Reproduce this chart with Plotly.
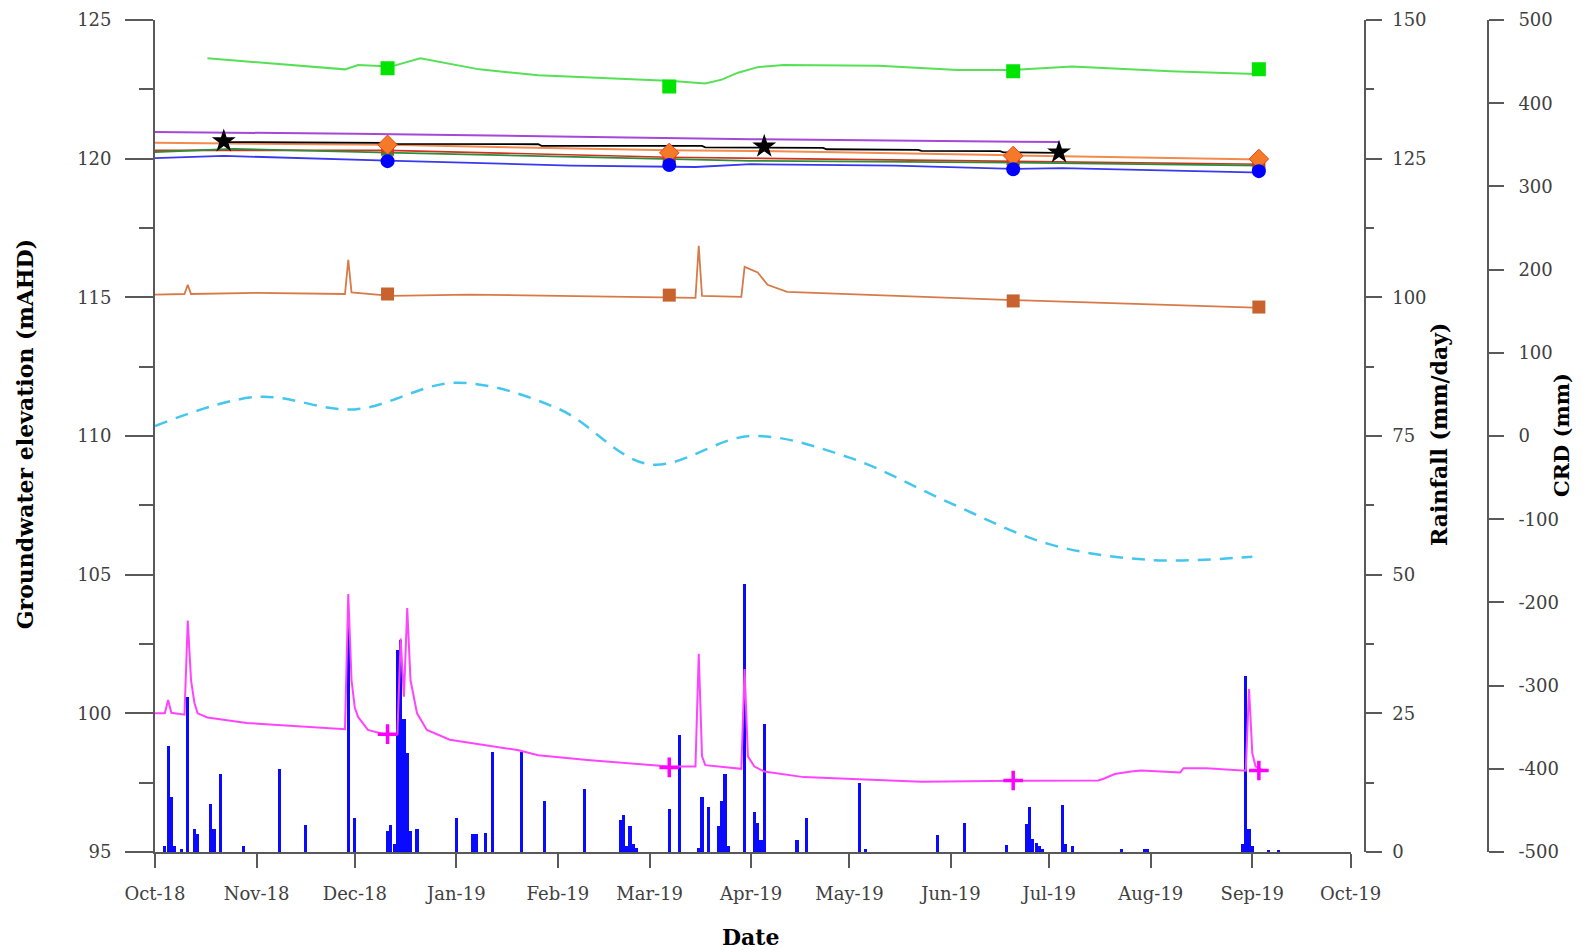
import plotly.graph_objects as go

# ---------------- data ----------------
survey_dates = ["2018-12-11", "2019-03-07", "2019-06-20", "2019-09-03"]

lime_dates = ["2018-10-17", "2018-11-28", "2018-12-02", "2018-12-12", "2018-12-21", "2019-01-08",
              "2019-01-26", "2019-02-24", "2019-03-08", "2019-03-18", "2019-03-23", "2019-03-28",
              "2019-04-03", "2019-04-11", "2019-05-10", "2019-06-03", "2019-06-20", "2019-07-08",
              "2019-08-07", "2019-09-02"]
lime_vals = [123.62, 123.22, 123.38, 123.32, 123.62, 123.22, 123.01, 122.88, 122.8, 122.71, 122.85,
             123.1, 123.3, 123.38, 123.35, 123.2, 123.2, 123.32, 123.15, 123.05]
lime_marks = [123.26, 122.60, 123.15, 123.22]

purple_dates = ["2018-10-01", "2018-12-01", "2019-02-01", "2019-04-01", "2019-07-04"]
purple_vals = [120.96, 120.9, 120.8, 120.7, 120.6]

black_dates = ["2018-10-22", "2018-12-10", "2018-12-11", "2019-01-26", "2019-01-27", "2019-03-17",
               "2019-03-18", "2019-04-23", "2019-04-24", "2019-05-22", "2019-05-23", "2019-06-16",
               "2019-06-17", "2019-07-04"]
black_vals = [120.6, 120.57, 120.53, 120.52, 120.46, 120.46, 120.41, 120.39, 120.34, 120.32, 120.28,
              120.27, 120.23, 120.21]
star_dates = ["2018-10-22", "2019-04-05", "2019-07-04"]
star_vals = [120.63, 120.44, 120.23]

orange_dates = ["2018-10-01", "2018-12-11", "2019-03-07", "2019-04-01", "2019-06-20", "2019-09-04"]
orange_vals = [120.57, 120.5, 120.3, 120.28, 120.12, 119.97]
orange_marks = [120.50, 120.21, 120.10, 119.99]

red_dates = ["2018-10-01", "2018-12-11", "2019-03-07", "2019-06-20", "2019-09-04"]
red_vals = [120.3, 120.3, 120.05, 119.9, 119.8]
red_marks = [120.35, 120.12, 119.98, 119.85]

dgreen_dates = ["2018-10-01", "2018-10-25", "2018-12-11", "2019-02-01", "2019-04-01", "2019-06-20",
                "2019-09-04"]
dgreen_vals = [120.24, 120.35, 120.22, 120.08, 119.92, 119.86, 119.75]
dgreen_marks = [120.22, 120.0, 119.88, 119.78]

blue_dates = ["2018-10-01", "2018-10-22", "2018-12-11", "2019-02-05", "2019-03-15", "2019-04-01",
              "2019-05-15", "2019-06-20", "2019-07-05", "2019-08-10", "2019-09-04"]
blue_vals = [120.02, 120.1, 119.93, 119.75, 119.7, 119.8, 119.75, 119.63, 119.66, 119.55, 119.5]
blue_marks = [119.91, 119.77, 119.62, 119.55]

brown_dates = ["2018-10-01", "2018-10-10", "2018-10-11", "2018-10-12", "2018-11-01", "2018-11-28",
               "2018-11-29", "2018-11-30", "2018-12-12", "2019-01-05", "2019-03-15", "2019-03-16",
               "2019-03-17", "2019-03-29", "2019-03-30", "2019-04-03", "2019-04-06", "2019-04-12",
               "2019-06-20", "2019-09-04"]
brown_vals = [115.1, 115.12, 115.45, 115.12, 115.16, 115.12, 116.35, 115.18, 115.05, 115.1, 114.98,
              116.86, 115.05, 115.02, 116.1, 115.9, 115.45, 115.2, 114.9, 114.62]
brown_marks = [115.12, 115.08, 114.87, 114.65]

magenta_dates = ["2018-10-01", "2018-10-04", "2018-10-05", "2018-10-06", "2018-10-10", "2018-10-11",
                 "2018-10-12", "2018-10-13", "2018-10-14", "2018-10-17", "2018-10-29", "2018-11-28",
                 "2018-11-29", "2018-11-30", "2018-12-01", "2018-12-02", "2018-12-05", "2018-12-10",
                 "2018-12-14", "2018-12-15", "2018-12-16", "2018-12-17", "2018-12-18", "2018-12-20",
                 "2018-12-23", "2018-12-30", "2019-01-20", "2019-01-26", "2019-02-10", "2019-03-07",
                 "2019-03-15", "2019-03-16", "2019-03-17", "2019-03-18", "2019-03-29", "2019-03-30",
                 "2019-03-31", "2019-04-02", "2019-04-05", "2019-04-17", "2019-05-02", "2019-05-23",
                 "2019-06-20", "2019-07-16", "2019-07-18", "2019-07-21", "2019-07-26", "2019-07-29",
                 "2019-08-10", "2019-08-11", "2019-08-18", "2019-08-30", "2019-08-31", "2019-09-01",
                 "2019-09-02", "2019-09-04"]
magenta_vals = [100.0, 100.0, 100.48, 100.02, 99.95, 103.35, 101.2, 100.4, 100.0, 99.85, 99.65, 99.43,
                104.3, 101.2, 100.2, 99.87, 99.4, 99.25, 99.25, 102.7, 100.6, 103.8, 101.2, 100.0,
                99.4, 99.05, 98.67, 98.49, 98.32, 98.08, 98.08, 102.15, 98.45, 98.13, 98.0, 101.6,
                98.45, 98.08, 97.9, 97.7, 97.63, 97.53, 97.57, 97.58, 97.66, 97.81, 97.9, 97.94,
                97.87, 98.02, 98.02, 97.93, 100.88, 98.56, 98.08, 97.96]
magenta_marks = [99.25, 98.05, 97.58, 97.94]

crd_dates = ["2018-10-01", "2018-11-01", "2018-12-01", "2019-01-01", "2019-02-01", "2019-03-01",
             "2019-04-01", "2019-05-01", "2019-06-01", "2019-07-01", "2019-08-01", "2019-09-01"]
crd_vals = [12, 47, 32, 64, 33, -34, 0, -26, -81, -130, -149, -145]

rain_dates = ["2018-10-04", "2018-10-05", "2018-10-06", "2018-10-07", "2018-10-09", "2018-10-11",
              "2018-10-13", "2018-10-14", "2018-10-18", "2018-10-19", "2018-10-21", "2018-10-28",
              "2018-11-08", "2018-11-16", "2018-11-29", "2018-12-01", "2018-12-11", "2018-12-12",
              "2018-12-13", "2018-12-14", "2018-12-15", "2018-12-16", "2018-12-17", "2018-12-18",
              "2018-12-20", "2019-01-01", "2019-01-06", "2019-01-07", "2019-01-10", "2019-01-12",
              "2019-01-21", "2019-01-28", "2019-02-09", "2019-02-20", "2019-02-21", "2019-02-22",
              "2019-02-23", "2019-02-24", "2019-02-25", "2019-03-07", "2019-03-10", "2019-03-16",
              "2019-03-17", "2019-03-19", "2019-03-22", "2019-03-23", "2019-03-24", "2019-03-25",
              "2019-03-30", "2019-04-02", "2019-04-03", "2019-04-04", "2019-04-05", "2019-04-15",
              "2019-04-18", "2019-05-04", "2019-05-06", "2019-05-28", "2019-06-05", "2019-06-18",
              "2019-06-24", "2019-06-25", "2019-06-26", "2019-06-27", "2019-06-28", "2019-06-29",
              "2019-07-05", "2019-07-06", "2019-07-08", "2019-07-23", "2019-07-30", "2019-07-31",
              "2019-08-29", "2019-08-30", "2019-08-31", "2019-09-01", "2019-09-06", "2019-09-09"]
rain_mm = [1.1, 19.1, 10.0, 1.1, 0.5, 28.0, 4.1, 3.2, 8.6, 4.1, 14.1, 1.1,
           15.0, 4.9, 42.8, 6.2, 3.8, 4.9, 1.5, 36.5, 38.3, 24.0, 17.8, 3.8,
           4.1, 6.2, 3.2, 3.2, 3.5, 18.1, 18.1, 9.2, 11.4, 5.8, 6.7, 1.0,
           4.6, 1.5, 0.8, 7.8, 21.1, 0.8, 10.0, 8.1, 4.7, 9.2, 14.1, 1.0,
           48.3, 7.2, 5.3, 2.2, 23.0, 2.2, 6.2, 12.4, 0.5, 3.1, 5.2, 1.2,
           5.0, 8.2, 2.3, 1.7, 1.0, 0.5, 8.5, 1.4, 1.1, 0.5, 0.5, 0.5,
           1.4, 31.8, 4.2, 1.0, 0.3, 0.3]

x_range = ["2018-10-01", "2019-10-01"]

gw_ticks = [95, 100, 105, 110, 115, 120, 125]
rain_ticks = [0, 25, 50, 75, 100, 125, 150]
crd_ticks = [-500, -400, -300, -200, -100, 0, 100, 200, 300, 400, 500]
crd_labels = ["-500", "-400", "-300", "-200", "-100", "0", "100", "200", "300", "400", "500"]

# ---------------- figure ----------------
TICKFONT = dict(family="DejaVu Serif", size=18, color="#404040")
TITLEFONT = dict(family="DejaVu Serif", size=22, color="#000000")
AX = "#595959"

fig = go.Figure()

# rainfall bars (base axis y, drawn first so groundwater lines sit above)
fig.add_trace(go.Bar(x=rain_dates, y=rain_mm, marker=dict(color="#0a0aff", line=dict(width=0)),
                     width=86400000 * 0.95, xaxis="x", yaxis="y"))

def line(xs, ys, color, width=1.8, dash="solid", shape="linear", axis="y2"):
    fig.add_trace(go.Scatter(x=xs, y=ys, mode="lines",
                             line=dict(color=color, width=width, dash=dash, shape=shape),
                             xaxis="x", yaxis=axis))

def marks(xs, ys, color, symbol, size, lw=0, lc=None, axis="y2"):
    fig.add_trace(go.Scatter(x=xs, y=ys, mode="markers",
                             marker=dict(color=color, symbol=symbol, size=size,
                                         line=dict(width=lw, color=lc or color)),
                             xaxis="x", yaxis=axis))

line(lime_dates, lime_vals, "#55e055", 2)
line(purple_dates, purple_vals, "#a548d8", 2)
line(orange_dates, orange_vals, "#f48a4c", 2)
line(black_dates, black_vals, "#000000", 1.8)
line(red_dates, red_vals, "#d0321e", 1.6)
line(dgreen_dates, dgreen_vals, "#2f8c3c", 1.8)
line(blue_dates, blue_vals, "#3838f0", 1.8)
line(brown_dates, brown_vals, "#d87a48", 1.8)
line(magenta_dates, magenta_vals, "#ff44ff", 2)

marks(survey_dates, lime_marks, "#00e400", "square", 14)
marks(survey_dates, red_marks, "#e0301e", "square", 13)
marks(survey_dates, dgreen_marks, "#2f8c3c", "triangle-up", 12)
marks(survey_dates, orange_marks, "#f47a2a", "diamond", 15, 1, "#e84818")
marks(survey_dates, blue_marks, "#0000ff", "circle", 14)
marks(star_dates, star_vals, "#000000", "star", 18)
marks(survey_dates, brown_marks, "#c8622e", "square", 13)
marks(survey_dates, magenta_marks, "#ff00ff", "cross-thin", 14, 3.5, "#ff00ff")

# CRD dashed line
line(crd_dates, crd_vals, "#45c6ee", 2.5, dash="13px,9px", shape="spline", axis="y3")

# screen px -> figure px (page margin and capture scaling)
def f(p):
    return p / 0.99 - 8

W, H = 1584, 944
L = f(153)
T = f(20)
PR = f(1337)
PB = f(843)
R = 20
B = H - PB
pw = W - L - R
ph = PB - T
x_end = (PR - L) / pw
pos_rain = (f(1351) - L) / pw
pos_crd = (f(1473) - L) / pw

common = dict(showgrid=False, zeroline=False, showline=True, linecolor=AX, linewidth=1.8,
              ticks="outside", tickwidth=1.5, tickcolor=AX, tickfont=TICKFONT, automargin=False,
              ticklabeloverflow="allow")

fig.update_layout(
    width=W, height=H,
    margin=dict(l=L, r=R, t=T, b=B, autoexpand=False),
    paper_bgcolor="white", plot_bgcolor="white",
    showlegend=False, bargap=0,
    xaxis=dict(domain=[0, x_end], range=x_range, type="date", anchor="y",
               tick0="2018-10-01", dtick="M1", tickformat="%b-%y",
               ticklen=14, ticklabelstandoff=10, **common),
    yaxis=dict(range=[0, 150], anchor="free", position=pos_rain, side="right",
               tickmode="array", tickvals=rain_ticks,
               ticklen=16, ticklabelstandoff=7,
               minor=dict(dtick=12.5, tick0=0, ticks="outside", ticklen=8, tickwidth=1.5, tickcolor=AX),
               **common),
    yaxis2=dict(range=[95, 125], overlaying="y", anchor="x", side="left",
                tickmode="array", tickvals=gw_ticks,
                ticklen=28, ticklabelstandoff=10,
                minor=dict(dtick=2.5, tick0=95, ticks="outside", ticklen=14, tickwidth=1.5, tickcolor=AX),
                **common),
    yaxis3=dict(range=[-500, 500], overlaying="y", anchor="free", position=pos_crd, side="right",
                tickmode="array", tickvals=crd_ticks, ticktext=crd_labels,
                ticklen=15, ticklabelstandoff=11, **common),
)

def px_x(px):
    return (f(px) - L) / pw

def px_y(py):
    return 1 - (f(py) - T) / ph

ann = [
    dict(text="<b>Groundwater elevation (mAHD)</b>", x=px_x(25), y=px_y(430), textangle=-90, size=22),
    dict(text="<b>Rainfall (mm/day)</b>", x=px_x(1425), y=px_y(430), textangle=-90, size=22),
    dict(text="<b>CRD (mm)</b>", x=px_x(1546), y=px_y(431), textangle=-90, size=21),
    dict(text="<b>Date</b>", x=px_x(743), y=px_y(927), textangle=0, size=22),
]
for a in ann:
    size = a.pop("size")
    fig.add_annotation(xref="paper", yref="paper", xanchor="center", yanchor="middle",
                       showarrow=False, font=dict(TITLEFONT, size=size), **a)

fig.write_html("out.html")
